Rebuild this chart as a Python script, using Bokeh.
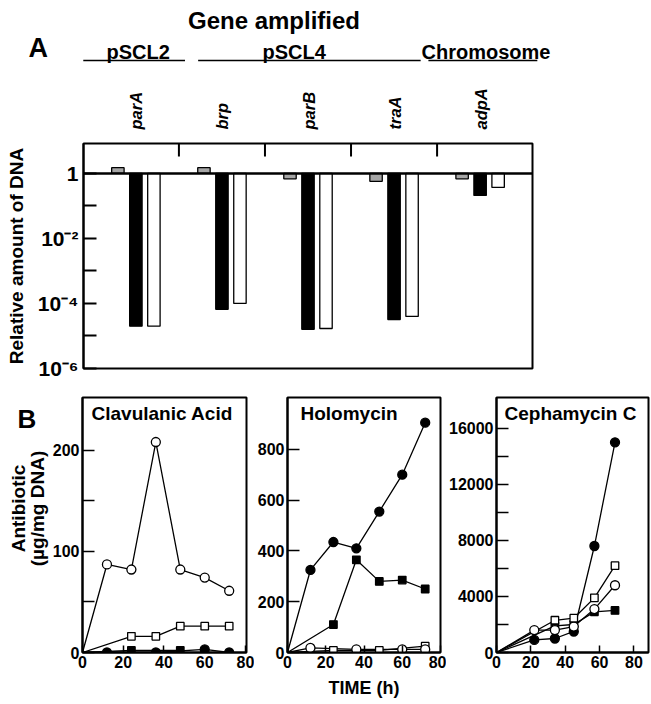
import math
from bokeh.plotting import figure
from bokeh.models import (FactorRange, Range1d, FixedTicker, CustomJSTickFormatter,
                          Span, Label)
from bokeh.layouts import column, row
from bokeh.embed import file_html
from bokeh.resources import INLINE
from bokeh.core.properties import value

FONT = "Liberation Sans"

# ---------------- Panel A data ----------------
genes = ["parA", "brp", "parB", "traA", "adpA"]
series = ["grey", "black", "white"]
amp_grey = [1.5, 1.5, 0.68, 0.57, 0.68]
amp_black = [2.0e-5, 6.6e-5, 1.6e-5, 3.2e-5, 0.21]
amp_white = [2.0e-5, 1.0e-4, 1.7e-5, 4.0e-5, 0.37]
replicons = ["pSCL2", "pSCL4", "Chromosome"]
replicon_genes = [["parA"], ["brp", "parB", "traA"], ["adpA"]]
log_ticks = [1e-6, 1e-5, 1e-4, 1e-3, 1e-2, 1e-1, 1.0]

# ---------------- Panel B data ----------------
time_ticks = [0, 20, 40, 60, 80]

clav_fc_t = [0, 12, 36, 60, 72]
clav_fc_v = [0, 0, 0, 3, 0]
clav_oc_t = [0, 12, 24, 36, 48, 60, 72]
clav_oc_v = [0, 87, 82, 208, 82, 74, 61]
clav_fs_t = [0, 24, 48]
clav_fs_v = [0, 2, 2]
clav_os_t = [0, 24, 36, 48, 60, 72]
clav_os_v = [0, 16, 16, 26, 26, 26]
clav_ticks = [0, 50, 100, 150, 200]

holo_fc_t = [0, 12, 24, 36, 48, 60, 72]
holo_fc_v = [0, 325, 435, 410, 555, 700, 905]
holo_oc_t = [0, 12, 36, 60, 72]
holo_oc_v = [0, 18, 12, 12, 12]
holo_fs_t = [0, 24, 36, 48, 60, 72]
holo_fs_v = [0, 110, 365, 280, 285, 250]
holo_os_t = [0, 24, 48, 72]
holo_os_v = [0, 8, 8, 25]
holo_ticks = [0, 200, 400, 600, 800]

ceph_fc_t = [0, 22, 34, 45, 57, 69]
ceph_fc_v = [0, 900, 1000, 1500, 7600, 15000]
ceph_oc_t = [0, 22, 34, 45, 57, 69]
ceph_oc_v = [0, 1600, 1600, 1850, 3100, 4800]
ceph_fs_t = [0, 34, 45, 57, 69]
ceph_fs_v = [0, 1900, 2000, 2900, 3000]
ceph_os_t = [0, 34, 45, 57, 69]
ceph_os_v = [0, 2300, 2450, 3900, 6200]
ceph_ticks = [0, 2000, 4000, 6000, 8000, 10000, 12000, 14000, 16000]

# ---------------- layout constants ----------------
MARGIN = 8           # page margin reproduced inside the figures
GP = 1.78            # padding between gene groups (factor units)
RP_MAIN = 1.41       # range padding of panel A on each side (factor units)
HEAD_FRAME_W = 600
A_W = MARGIN + HEAD_FRAME_W
A_LEFT = MARGIN + 75
A_RIGHT = 76
A_FRAME_W = A_W - A_LEFT - A_RIGHT
HEAD_H = 134 + MARGIN
A_H = 238

factors = [(g, s) for g in genes for s in series]
n_units = len(factors) + (len(genes) - 1) * GP
unit_px = A_FRAME_W / (n_units + 2 * RP_MAIN)
RP_HEAD = (HEAD_FRAME_W / unit_px - n_units) / 2


def bare(p):
    p.grid.visible = False
    p.outline_line_color = None
    p.background_fill_color = None
    p.border_fill_color = None


# ---------------- Panel A header ----------------
hr = FactorRange(*factors, group_padding=GP, range_padding=RP_HEAD,
                 range_padding_units="absolute")
ph = figure(x_range=hr, y_range=Range1d(0, HEAD_H), width=A_W, height=HEAD_H,
            output_backend="svg", toolbar_location=None, frame_align=False,
            x_axis_location=None, y_axis_location=None,
            min_border_left=MARGIN, min_border_right=0, min_border_top=0,
            min_border_bottom=0)
bare(ph)

ph.text(x=[(g, "black") for g in genes], y=13, text=genes, angle=math.pi / 2,
        text_align="left", text_baseline="middle", text_font=value(FONT),
        text_font_style="bold italic", text_font_size="16.5px", text_color="black")

UNDERLINE_PADS = [(1.95, 1.7), (0.35, 0.45), (1.9, 2.15)]
LABEL_SHIFT = [0.1, -0.8, 0.3]
for name, gl, (pl, pr), sh in zip(replicons, replicon_genes, UNDERLINE_PADS, LABEL_SHIFT):
    ph.segment(x0=[(gl[0], "grey", -pl)], y0=82, x1=[(gl[-1], "white", pr)], y1=82,
               line_color="black", line_width=1.5)
    mid = gl[len(gl) // 2]
    ph.text(x=[(mid, "black", sh)], y=91, text=[name], text_align="center",
            text_baseline="alphabetic", text_font=value(FONT), text_font_style="bold",
            text_font_size="20px", text_color="black")

ph.add_layout(Label(x=265.5, x_units="screen", y=122, text="Gene amplified",
                    text_align="center", text_baseline="alphabetic", text_font=FONT,
                    text_font_style="bold", text_font_size="24px", text_color="black"))
ph.add_layout(Label(x=20, x_units="screen", y=95, text="A", text_align="left",
                    text_baseline="alphabetic", text_font=FONT, text_font_style="bold",
                    text_font_size="27px", text_color="black"))

# ---------------- Panel A main ----------------
y_top = 10 ** 0.92
xr = FactorRange(*factors, group_padding=GP, range_padding=RP_MAIN,
                 range_padding_units="absolute")
pa = figure(x_range=xr, y_range=Range1d(1e-6, y_top), y_axis_type="log",
            width=A_W, height=A_H, output_backend="svg", toolbar_location=None,
            frame_align=False,
            min_border_left=A_LEFT, min_border_right=A_RIGHT, min_border_top=1,
            min_border_bottom=12)
pa.xaxis.visible = False
pa.grid.visible = False
pa.outline_line_color = "black"
pa.outline_line_width = 2

for s, vals, fill in zip(series, [amp_grey, amp_black, amp_white],
                         ["#a6a6a6", "black", "white"]):
    pa.vbar(x=[(g, s) for g in genes], top=vals, bottom=1, width=0.69,
            fill_color=fill, line_color="black", line_width=1.3)

half_gap = 0.5 + GP / 2
pa.segment(x0=[(g, "grey", -half_gap) for g in genes[1:]], y0=y_top,
           x1=[(g, "grey", -half_gap) for g in genes[1:]], y1=10 ** 0.52,
           line_color="black", line_width=2)
pa.add_layout(Span(location=1, dimension="width", line_color="black", line_width=2.5))

ya = pa.yaxis[0]
ya.ticker = FixedTicker(ticks=log_ticks, minor_ticks=[])
ya.formatter = CustomJSTickFormatter(code=r"""
const e = Math.round(Math.log10(tick));
if (e === 0) return "1";
if (e % 2 !== 0) return "";
const sup = {"-": "\u207b", "0": "\u2070", "1": "\u00b9", "2": "\u00b2", "3": "\u00b3",
             "4": "\u2074", "5": "\u2075", "6": "\u2076"};
return "10" + String(e).split("").map(c => sup[c]).join("");
""")
ya.major_tick_in = 13
ya.major_tick_out = 0
ya.major_tick_line_width = 2
ya.axis_line_width = 2
ya.major_label_standoff = 5
ya.major_label_text_font = FONT
ya.major_label_text_font_style = "bold"
ya.major_label_text_font_size = "21px"
ya.major_label_text_color = "black"
ya.axis_label = "Relative amount of DNA"
ya.axis_label_text_font = FONT
ya.axis_label_text_font_style = "bold"
ya.axis_label_text_font_size = "19px"
ya.axis_label_text_color = "black"
ya.axis_label_standoff = 8

# ---------------- Panel B ----------------
B_TOP = 17
B_BOTTOM = 50
B_FRAME_H = 255
B_H = B_TOP + B_FRAME_H + B_BOTTOM
S0_FRAME_W = 41

s0 = figure(width=MARGIN + S0_FRAME_W, height=B_H, x_range=Range1d(0, S0_FRAME_W),
            y_range=Range1d(0, B_H), output_backend="svg", toolbar_location=None,
            frame_align=False, x_axis_location=None, y_axis_location=None,
            min_border_left=MARGIN, min_border_right=0, min_border_top=0,
            min_border_bottom=0)
bare(s0)
# y measured from the bottom of the strip
s0.text(x=[9], y=[B_H - 38], text=["B"], text_align="left", text_baseline="alphabetic",
        text_font=value(FONT), text_font_style="bold", text_font_size="26px",
        text_color="black")
s0.text(x=[9.5, 28.5], y=[B_H - 128] * 2, text=["Antibiotic", "(\u00b5g/mg DNA)"],
        angle=math.pi / 2, text_align="center", text_baseline="middle",
        text_font=value(FONT), text_font_style="bold", text_font_size="19px",
        text_color="black")


def make_sub(width, left, right, xmax, ymax, ticks, label_every, title, title_x):
    p = figure(width=width, height=B_H, x_range=Range1d(0, xmax), y_range=Range1d(0, ymax),
               output_backend="svg", toolbar_location=None, frame_align=False,
               min_border_left=left, min_border_right=right,
               min_border_top=B_TOP, min_border_bottom=B_BOTTOM)
    p.grid.visible = False
    p.outline_line_color = "black"
    p.outline_line_width = 2
    xa = p.xaxis[0]
    xa.ticker = FixedTicker(ticks=time_ticks, minor_ticks=[])
    xa.major_tick_in = 7
    xa.major_tick_out = 0
    xa.major_tick_line_width = 1.5
    xa.major_label_standoff = 3
    ya = p.yaxis[0]
    ya.ticker = FixedTicker(ticks=ticks, minor_ticks=[])
    ya.formatter = CustomJSTickFormatter(
        args=dict(step=label_every),
        code="return (Math.round(tick) % step === 0) ? Math.round(tick).toString() : '';")
    ya.major_tick_in = 12
    ya.major_tick_out = 0
    ya.major_tick_line_width = 1.5
    ya.major_label_standoff = 3
    for ax in (xa, ya):
        ax.axis_line_width = 2
        ax.major_label_text_font = FONT
        ax.major_label_text_font_style = "bold"
        ax.major_label_text_font_size = "16px"
        ax.major_label_text_color = "black"
        ax.axis_label_text_font = FONT
        ax.axis_label_text_font_style = "bold"
        ax.axis_label_text_color = "black"
    p.add_layout(Label(x=title_x, y=B_FRAME_H - 5, x_units="screen", y_units="screen",
                       text=title, text_baseline="top", text_align="left", text_font=FONT,
                       text_font_style="bold", text_font_size="19px", text_color="black"))
    return p


def draw(p, sets):
    for t, v, marker, filled in sets:
        p.line(t, v, line_color="black", line_width=1.3)
    for t, v, marker, filled in sets:
        p.scatter(t[1:], v[1:], marker=marker, size=9 if marker == "circle" else 7.5,
                  fill_color="black" if filled else "white", line_color="black",
                  line_width=1.3)


s1 = make_sub(205, 32, 8, 80.5, 252, clav_ticks, 100, "Clavulanic Acid", 9)
draw(s1, [(clav_os_t, clav_os_v, "square", False), (clav_fs_t, clav_fs_v, "square", True),
          (clav_fc_t, clav_fc_v, "circle", True), (clav_oc_t, clav_oc_v, "circle", False)])

s2 = make_sub(192, 32, 6, 80, 1004, holo_ticks, 200, "Holomycin", 13)
draw(s2, [(holo_os_t, holo_os_v, "square", False), (holo_oc_t, holo_oc_v, "circle", False),
          (holo_fs_t, holo_fs_v, "square", True), (holo_fc_t, holo_fc_v, "circle", True)])
s2.xaxis[0].axis_label = "TIME (h)"
s2.xaxis[0].axis_label_text_font_size = "18px"
s2.xaxis[0].axis_label_standoff = 7

s3 = make_sub(204, 50, 2, 88.5, 18200, ceph_ticks, 4000, "Cephamycin C", 8)
draw(s3, [(ceph_fs_t, ceph_fs_v, "square", True), (ceph_fc_t, ceph_fc_v, "circle", True),
          (ceph_oc_t, ceph_oc_v, "circle", False), (ceph_os_t, ceph_os_v, "square", False)])

layout = column(ph, pa, row(s0, s1, s2, s3))

open("out.html", "w").write(file_html(layout, INLINE))
